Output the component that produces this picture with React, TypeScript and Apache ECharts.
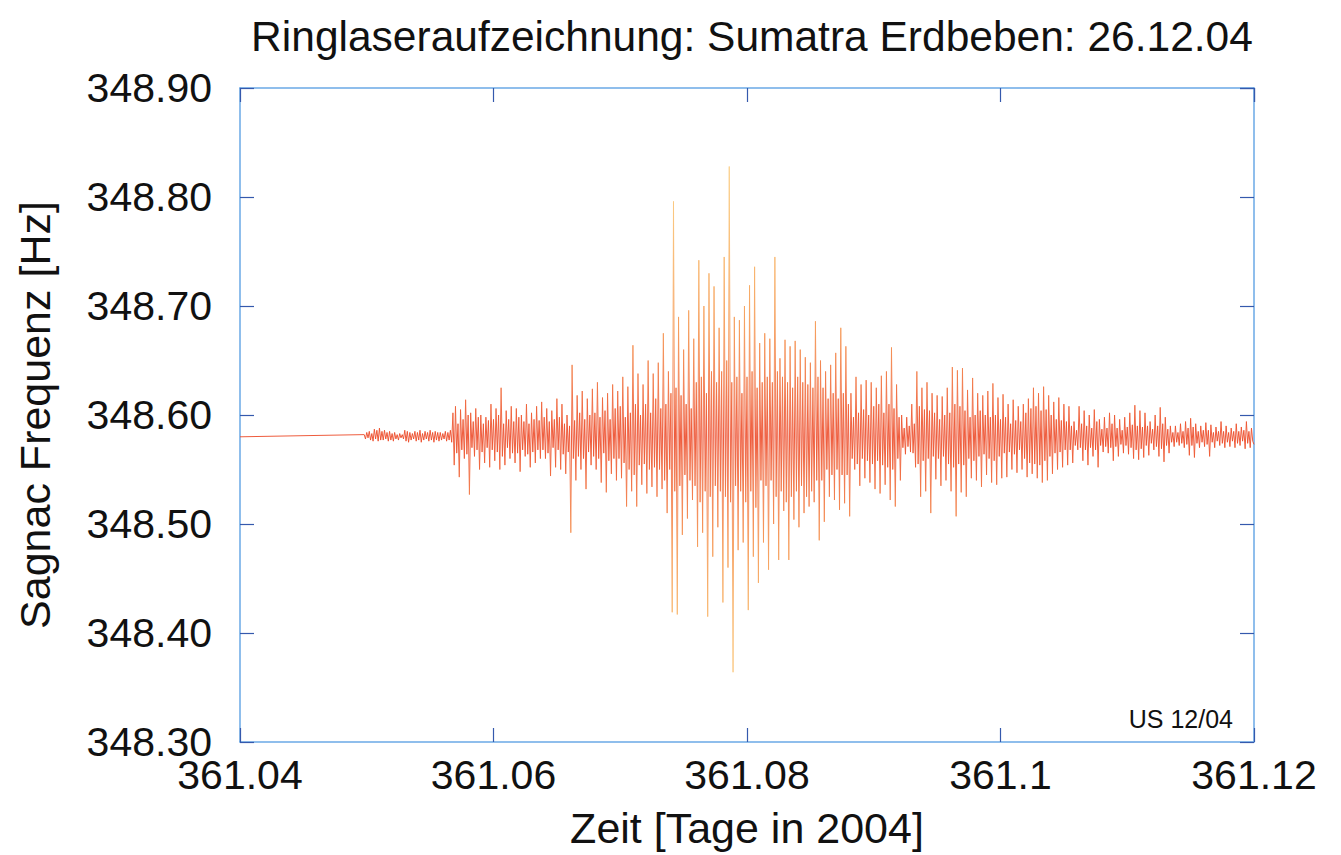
import React, { useEffect, useRef } from "react";
import * as echarts from "echarts";

// Ring laser recording, Sumatra earthquake 26.12.2004
const TITLE = "Ringlaseraufzeichnung: Sumatra Erdbeben: 26.12.04";
const X_NAME = "Zeit [Tage in 2004]";
const Y_NAME = "Sagnac Frequenz [Hz]";
const NOTE = "US 12/04";

// Axis ticks
const xTicks = [361.04, 361.06, 361.08, 361.1, 361.12];
const yTicks = [348.3, 348.4, 348.5, 348.6, 348.7, 348.8, 348.9];

// Undisturbed Sagnac frequency before the first arrivals
const BASELINE_HZ = 348.58;
const RECORD_START_DAY = 361.04;

// Sampled trace: first sample time, sample spacing (days), and deviation from baseline in mHz
const START_DAY = 361.0498;
const SAMPLE_STEP = 0.0001;
const offsetMilliHz = [
  2, -2, 4, -1, 5, -3, 3, -4, 7, -2, 6, -4, 8, -3, 5, -3, 6, -2, 4, -4,
  5, -3, 3, -4, 4, -2, 2, -3, 3, -1, 2, -2, 6, -4, 5, -5, 4, -3, 3, -2,
  5, -4, 4, -3, 6, -5, 3, -3, 5, -2, 4, -4, 6, -3, 4, -5, 5, -3, 4, -4,
  4, -3, 3, -2, 5, -4, 4, -3, 6, -5, 22, -26, 28, -15, 12, -37, 25, -12, 16, -20,
  34, -16, 20, -53, 22, -10, 14, -18, 26, -12, 18, -30, 20, -14, 12, -24, 18, -10, 15, -28,
  30, -12, 16, -22, 26, -14, 20, -30, 45, -18, 12, -26, 24, -10, 16, -20, 28, -15, 14, -24,
  26, -15, 18, -32, 20, -12, 14, -18, 30, -16, 12, -28, 22, -14, 16, -24, 28, -12, 15, -20,
  32, -12, 18, -20, 26, -15, 14, -36, 24, -10, 16, -28, 35, -12, 18, -30, 30, -16, 12, -34,
  20, -14, 10, -88, 66, -20, 15, -40, 38, -18, 22, -30, 42, -20, 16, -48, 35, -14, 20, -26,
  44, -18, 22, -30, 50, -20, 18, -42, 36, -15, 24, -51, 40, -22, 16, -34, 48, -20, 26, -40,
  42, -20, 28, -38, 55, -24, 18, -64, 46, -30, 22, -50, 84, -35, 30, -64, 58, -26, 20, -44,
  48, -25, 30, -52, 70, -30, 22, -46, 58, -28, 35, -55, 68, -30, 26, -48, 95, -40, 30, -70,
  60, -30, 40, -161, 216, -50, 45, -163, 110, -45, 38, -90, 80, -35, 30, -75, 116, -40, 26, -58,
  90, -45, 50, -101, 162, -60, 55, -88, 120, -50, 40, -165, 150, -55, 60, -110, 138, -45, 50, -83,
  100, -50, 60, -152, 165, -55, 70, -120, 248, -60, 50, -216, 110, -45, 55, -104, 107, -50, 40, -97,
  120, -60, 55, -159, 139, -50, 60, -110, 156, -65, 45, -134, 86, -40, 50, -97, 95, -45, 55, -122,
  90, -40, 50, -80, 165, -55, 60, -113, 72, -50, 55, -68, 89, -60, 50, -113, 83, -55, 45, -76,
  88, -50, 55, -83, 80, -45, 50, -70, 73, -55, 48, -64, 68, -50, 45, -60, 106, -40, 55, -95,
  70, -40, 45, -78, 60, -30, 35, -55, 66, -35, 40, -58, 77, -30, 35, -67, 100, -35, 40, -61,
  83, -35, 30, -73, 40, -20, 18, -30, 55, -25, 22, -45, 48, -20, 25, -38, 52, -22, 20, -42,
  50, -25, 28, -48, 45, -22, 30, -52, 56, -26, 22, -44, 60, -28, 30, -58, 82, -30, 26, -64,
  48, -20, 18, -40, 20, -10, 8, -16, 18, -9, 10, -14, 30, -15, 12, -28, 60, -25, 28, -55,
  45, -22, 25, -50, 50, -20, 24, -70, 40, -18, 22, -39, 38, -20, 16, -45, 37, -18, 20, -40,
  45, -25, 22, -50, 64, -28, 30, -73, 61, -25, 28, -51, 63, -26, 24, -55, 43, -20, 18, -38,
  54, -22, 20, -40, 40, -18, 24, -46, 38, -16, 20, -35, 42, -20, 18, -42, 49, -22, 20, -44,
  36, -18, 16, -38, 39, -15, 18, -37, 30, -14, 12, -30, 34, -16, 15, -33, 28, -12, 14, -30,
  30, -20, 22, -37, 35, -24, 26, -34, 45, -25, 28, -38, 40, -26, 24, -42, 46, -22, 25, -40,
  38, -18, 20, -34, 32, -15, 16, -30, 36, -14, 15, -28, 30, -12, 14, -26, 28, -12, 10, -24,
  14, -8, 6, -12, 28, -10, 12, -22, 24, -12, 10, -26, 20, -10, 8, -18, 25, -12, 14, -28,
  16, -8, 7, -14, 18, -9, 8, -15, 22, -10, 12, -22, 20, -9, 8, -18, 16, -7, 6, -15,
  18, -8, 9, -16, 22, -10, 11, -20, 29, -12, 10, -21, 24, -11, 9, -19, 22, -8, 10, -17,
  14, -6, 7, -12, 20, -9, 10, -18, 27, -11, 12, -23, 18, -8, 7, -15, 10, -5, 4, -9,
  10, -5, 4, -8, 12, -6, 5, -10, 14, -7, 8, -17, 17, -8, 9, -19, 12, -6, 5, -10,
  10, -5, 6, -9, 13, -7, 6, -18, 11, -5, 4, -10, 9, -4, 5, -8, 14, -6, 5, -10,
  10, -5, 4, -9, 8, -4, 5, -10, 12, -6, 5, -8, 9, -4, 6, -11, 14, -6, 5, -10, 8, -4, -7,
];

const FONT = "'Liberation Sans', Arial, Helvetica, sans-serif";
const FRAME_BLUE = "#6aa8e6";
const TICK_BLUE = "#3559ad";

export default function App() {
  const ref = useRef<HTMLDivElement>(null);

  useEffect(() => {
    if (!ref.current) return;
    const chart = echarts.init(ref.current, undefined, { renderer: "svg" });

    const trace: number[][] = [[RECORD_START_DAY, BASELINE_HZ]];
    offsetMilliHz.forEach((d, i) => {
      trace.push([START_DAY + i * SAMPLE_STEP, BASELINE_HZ + d / 1000]);
    });

    const xMin = xTicks[0];
    const xMax = xTicks[xTicks.length - 1];
    const xInterval = xTicks[1] - xTicks[0];
    const yMin = yTicks[0];
    const yMax = yTicks[yTicks.length - 1];
    const yInterval = yTicks[1] - yTicks[0];

    const frameLine = { show: true, lineStyle: { color: FRAME_BLUE, width: 1.5 } };
    const tick = { show: true, inside: true, length: 14, lineStyle: { color: TICK_BLUE, width: 1.2 } };
    const labelStyle = { fontSize: 41, lineHeight: 32, color: "#111", fontFamily: FONT };

    chart.setOption({
      animation: false,
      backgroundColor: "#ffffff",
      grid: { left: 240, top: 88, width: 1014, height: 654, containLabel: false },
      graphic: [
        {
          type: "text",
          x: 752,
          y: 36,
          style: {
            text: TITLE,
            textAlign: "center",
            textVerticalAlign: "middle",
            fontSize: 42.5,
            fontFamily: FONT,
            fill: "#111",
          },
        },
        {
          type: "text",
          x: 1233,
          y: 719,
          style: {
            text: NOTE,
            textAlign: "right",
            textVerticalAlign: "middle",
            fontSize: 25,
            fontFamily: FONT,
            fill: "#111",
          },
        },
      ],
      visualMap: {
        show: false,
        type: "continuous",
        seriesIndex: 0,
        dimension: 1,
        min: 348.33,
        max: 348.83,
        inRange: {
          color: [
            "#fbd08a", "#fac47c", "#f8b26a", "#f69c5a", "#f27a4a", "#ec4826",
            "#f27a4a", "#f69c5a", "#f8b26a", "#fac47c", "#fbd08a",
          ],
        },
      },
      xAxis: [
        {
          type: "value",
          position: "bottom",
          min: xMin,
          max: xMax,
          interval: xInterval,
          axisLine: frameLine,
          axisTick: tick,
          splitLine: { show: false },
          axisLabel: {
            ...labelStyle,
            margin: 17,
            formatter: (v: number) => String(Number(v.toFixed(2))),
          },
          name: X_NAME,
          nameLocation: "middle",
          nameGap: 64,
          nameTextStyle: { fontSize: 43, color: "#111", fontFamily: FONT },
        },
        {
          type: "value",
          position: "top",
          min: xMin,
          max: xMax,
          interval: xInterval,
          axisLine: frameLine,
          axisTick: tick,
          splitLine: { show: false },
          axisLabel: { show: false },
        },
      ],
      yAxis: [
        {
          type: "value",
          position: "left",
          min: yMin,
          max: yMax,
          interval: yInterval,
          axisLine: frameLine,
          axisTick: tick,
          splitLine: { show: false },
          axisLabel: {
            ...labelStyle,
            margin: 28,
            formatter: (v: number) => v.toFixed(2),
          },
          name: Y_NAME,
          nameLocation: "middle",
          nameGap: 184,
          nameRotate: 90,
          nameTextStyle: { fontSize: 43, color: "#111", fontFamily: FONT },
        },
        {
          type: "value",
          position: "right",
          min: yMin,
          max: yMax,
          interval: yInterval,
          axisLine: frameLine,
          axisTick: tick,
          splitLine: { show: false },
          axisLabel: { show: false },
        },
      ],
      series: [
        {
          type: "line",
          xAxisIndex: 0,
          yAxisIndex: 0,
          data: trace,
          showSymbol: false,
          symbol: "none",
          lineStyle: { width: 0.9 },
          silent: true,
        },
      ],
    });

    return () => chart.dispose();
  }, []);

  return (
    <div
      ref={ref}
      style={{ position: "absolute", left: 0, top: 0, width: 1341, height: 855, background: "#fff" }}
    />
  );
}
